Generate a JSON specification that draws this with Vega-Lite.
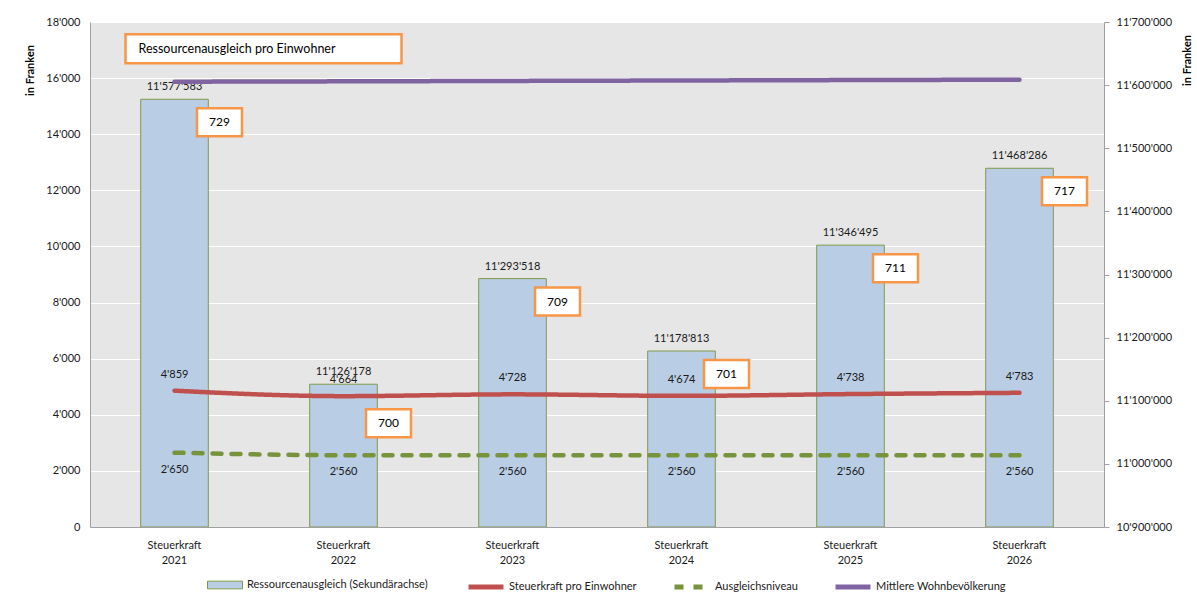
{
  "$schema": "https://vega.github.io/schema/vega-lite/v6.json",
  "width": 1014,
  "height": 505,
  "autosize": {"type": "none"},
  "padding": {"left": 90, "top": 22, "right": 93, "bottom": 72},
  "background": "white",
  "config": {
    "font": "Lato",
    "view": {"fill": "#e6e6e6", "stroke": null},
    "locale": {"number": {"decimal": ".", "thousands": "'", "grouping": [3], "currency": ["", ""]}},
    "axis": {"labelFont": "Lato", "labelFontSize": 11, "labelColor": "#1a1a1a", "domainColor": "#a0a0a0", "tickColor": "#a0a0a0", "titleFont": "Lato", "titleColor": "#000000"},
    "legend": {"labelFont": "Lato", "labelFontSize": 11, "labelColor": "#1a1a1a"},
    "text": {"font": "Lato", "fontSize": 11, "fill": "#1a1a1a"}
  },
  "data": {
    "values": [
      {"jahr": "2021", "ra": 11577583, "pe": 729, "sk": 4859, "an": 2650, "wb": 15872},
      {"jahr": "2022", "ra": 11126178, "pe": 700, "sk": 4664, "an": 2560, "wb": 15885},
      {"jahr": "2023", "ra": 11293518, "pe": 709, "sk": 4728, "an": 2560, "wb": 15900},
      {"jahr": "2024", "ra": 11178813, "pe": 701, "sk": 4674, "an": 2560, "wb": 15915},
      {"jahr": "2025", "ra": 11346495, "pe": 711, "sk": 4738, "an": 2560, "wb": 15930},
      {"jahr": "2026", "ra": 11468286, "pe": 717, "sk": 4783, "an": 2560, "wb": 15943}
    ]
  },
  "layer": [
    {
      "layer": [
        {
          "mark": {"type": "bar", "stroke": "#7f9a4a", "strokeWidth": 1, "clip": true},
          "encoding": {
            "x": {
              "field": "jahr", "type": "nominal",
              "scale": {"paddingInner": 0.6, "paddingOuter": 0.3},
              "axis": {"title": null, "labelAngle": 0, "ticks": false, "labelPadding": 12, "labelBaseline": "top",
                       "labelExpr": "['Steuerkraft', datum.label]", "labelLineHeight": 15, "domainColor": "#a0a0a0"}
            },
            "y": {
              "field": "ra", "type": "quantitative",
              "scale": {"domain": [10900000, 11700000], "zero": false, "nice": false},
              "axis": {"orient": "right", "values": [10900000, 11000000, 11100000, 11200000, 11300000, 11400000, 11500000, 11600000, 11700000],
                       "format": ",d", "grid": false, "tickSize": 5, "labelPadding": 7,
                       "title": "in Franken", "titleAngle": -90, "titleX": 83, "titleY": 38, "titleFontSize": 11,
                       "titleFontWeight": "bold", "titleAlign": "center", "titleBaseline": "middle"}
            },
            "y2": {"datum": 10900000},
            "fill": {
              "datum": "Ressourcenausgleich (Sekundärachse)",
              "scale": {"range": ["#b9cde5"]},
              "legend": {
                "orient": "none", "legendX": 117, "legendY": 545, "direction": "horizontal", "title": null,
                "symbolSize": 1225, "symbolType": "M-1,-0.22L1,-0.22L1,0.22L-1,0.22Z",
                "symbolStrokeColor": "#7f9a4a", "symbolStrokeWidth": 1, "symbolOpacity": 1,
                "labelOffset": 4, "labelLimit": 400
              }
            }
          }
        },
        {
          "mark": {"type": "text", "baseline": "middle", "dy": -12},
          "encoding": {
            "x": {"field": "jahr", "type": "nominal"},
            "y": {"field": "ra", "type": "quantitative", "scale": {"domain": [10900000, 11700000], "zero": false, "nice": false}},
            "text": {"field": "ra", "type": "quantitative", "format": ",d"}
          }
        },
        {
          "transform": [{"filter": "datum.jahr != '2022'"}],
          "layer": [
            {
              "mark": {"type": "point", "shape": "M-1,-0.622L1,-0.622L1,0.622L-1,0.622Z", "size": 2025, "filled": true, "fill": "white", "stroke": "#f79646", "strokeWidth": 2.5, "opacity": 1, "xOffset": 45, "yOffset": 23},
              "encoding": {
                "x": {"field": "jahr", "type": "nominal"},
                "y": {"field": "ra", "type": "quantitative", "scale": {"domain": [10900000, 11700000], "zero": false, "nice": false}}
              }
            },
            {
              "mark": {"type": "text", "fontSize": 12, "fill": "#000000", "baseline": "middle", "xOffset": 45, "yOffset": 23},
              "encoding": {
                "x": {"field": "jahr", "type": "nominal"},
                "y": {"field": "ra", "type": "quantitative", "scale": {"domain": [10900000, 11700000], "zero": false, "nice": false}},
                "text": {"field": "pe", "type": "quantitative"}
              }
            }
          ]
        },
        {
          "transform": [{"filter": "datum.jahr == '2022'"}],
          "layer": [
            {
              "mark": {"type": "point", "shape": "M-1,-0.622L1,-0.622L1,0.622L-1,0.622Z", "size": 2025, "filled": true, "fill": "white", "stroke": "#f79646", "strokeWidth": 2.5, "opacity": 1, "xOffset": 45, "yOffset": 39},
              "encoding": {
                "x": {"field": "jahr", "type": "nominal"},
                "y": {"field": "ra", "type": "quantitative", "scale": {"domain": [10900000, 11700000], "zero": false, "nice": false}}
              }
            },
            {
              "mark": {"type": "text", "fontSize": 12, "fill": "#000000", "baseline": "middle", "xOffset": 45, "yOffset": 39},
              "encoding": {
                "x": {"field": "jahr", "type": "nominal"},
                "y": {"field": "ra", "type": "quantitative", "scale": {"domain": [10900000, 11700000], "zero": false, "nice": false}},
                "text": {"field": "pe", "type": "quantitative"}
              }
            }
          ]
        }
      ]
    },
    {
      "layer": [
        {
          "transform": [{"fold": ["sk", "an", "wb"], "as": ["serie", "wert"]}],
          "mark": {"type": "line", "strokeWidth": 4.5, "interpolate": "monotone", "strokeCap": "round"},
          "encoding": {
            "x": {"field": "jahr", "type": "nominal"},
            "y": {
              "field": "wert", "type": "quantitative",
              "scale": {"domain": [0, 18000], "nice": false},
              "axis": {"orient": "left", "values": [0, 2000, 4000, 6000, 8000, 10000, 12000, 14000, 16000, 18000],
                       "format": ",d", "grid": true, "gridColor": "#ffffff", "gridWidth": 1, "ticks": false, "labelPadding": 10,
                       "title": "in Franken", "titleAngle": -90, "titleX": -60, "titleY": 48, "titleFontSize": 11,
                       "titleFontWeight": "bold", "titleAlign": "center", "titleBaseline": "middle"}
            },
            "stroke": {
              "field": "serie", "type": "nominal",
              "scale": {"domain": ["sk", "an", "wb"], "range": ["#c0504d", "#77933c", "#8064a2"]},
              "legend": {
                "orient": "none", "legendX": 376, "legendY": 545, "direction": "horizontal", "title": null,
                "symbolType": "stroke", "symbolSize": 1225, "symbolStrokeWidth": 5, "symbolOpacity": 1,
                "labelOffset": 3, "labelLimit": 400, "columnPadding": 27,
                "labelExpr": "datum.label == 'sk' ? 'Steuerkraft pro Einwohner' : (datum.label == 'an' ? 'Ausgleichsniveau' : 'Mittlere Wohnbevölkerung')"
              }
            },
            "strokeDash": {
              "field": "serie", "type": "nominal",
              "scale": {"domain": ["sk", "an", "wb"], "range": [[1, 0], [9, 10], [1, 0]]},
              "legend": null
            }
          }
        },
        {
          "mark": {"type": "text", "baseline": "middle", "dy": -16},
          "encoding": {
            "x": {"field": "jahr", "type": "nominal"},
            "y": {"field": "sk", "type": "quantitative", "scale": {"domain": [0, 18000], "nice": false}},
            "text": {"field": "sk", "type": "quantitative", "format": ",d"}
          }
        },
        {
          "mark": {"type": "text", "baseline": "middle", "dy": 17},
          "encoding": {
            "x": {"field": "jahr", "type": "nominal"},
            "y": {"field": "an", "type": "quantitative", "scale": {"domain": [0, 18000], "nice": false}},
            "text": {"field": "an", "type": "quantitative", "format": ",d"}
          }
        },
        {
          "data": {"values": [{"jahr": "2021", "pos": 17050}]},
          "layer": [
            {
              "mark": {"type": "point", "shape": "M-1,-0.105L1,-0.105L1,0.105L-1,0.105Z", "size": 76176, "filled": true, "fill": "white", "stroke": "#f79646", "strokeWidth": 2.5, "opacity": 1, "xOffset": 89},
              "encoding": {
                "x": {"field": "jahr", "type": "nominal"},
                "y": {"field": "pos", "type": "quantitative", "scale": {"domain": [0, 18000], "nice": false}}
              }
            },
            {
              "mark": {"type": "text", "text": "Ressourcenausgleich pro Einwohner", "fontSize": 12.5, "fill": "#000000", "align": "left", "baseline": "middle", "xOffset": -36},
              "encoding": {
                "x": {"field": "jahr", "type": "nominal"},
                "y": {"field": "pos", "type": "quantitative", "scale": {"domain": [0, 18000], "nice": false}}
              }
            }
          ]
        }
      ]
    }
  ],
  "resolve": {"scale": {"y": "independent"}}
}
